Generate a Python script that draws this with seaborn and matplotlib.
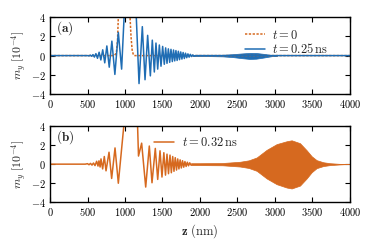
import numpy as np
import matplotlib
matplotlib.use("Agg")
import matplotlib.pyplot as plt
import seaborn as sns

# ---- data (z in nm, m_y in units of 1e-4) ----
# panel (a), t = 0 : initial pulse (goes far above the y range)
z_a0 = [0, 860, 885, 900, 911, 925, 1000, 1055, 1067, 1080, 1095, 1111, 1125, 4000]
m_a0 = [0, 0, 0.3, 1.5, 4, 8, 12, 8, 4, 2, 0.6, 0.1, 0, 0]

# panel (a), t = 0.25 ns : extrema of the oscillating tails
z_a1 = [0, 500, 520, 538, 555, 573, 592, 612, 633, 655, 678, 703, 730, 758, 790, 825,
        865, 911, 955, 1000, 1070, 1140, 1187, 1231, 1267, 1302, 1338, 1364, 1391, 1413,
        1436, 1458, 1480, 1502, 1524, 1542, 1560, 1578, 1596, 1613, 1631, 1647, 1663,
        1679, 1695, 1711, 1727, 1743, 1759, 1775, 1791, 1807, 1823, 1839, 1855, 1871,
        1887, 1903, 1919, 1940, 4000]
m_a1 = [0, 0, -0.03, 0.05, -0.07, 0.1, -0.15, 0.2, -0.28, 0.35, -0.45, 0.6, -0.75, 1.0,
        -1.2, 1.5, -1.95, 2.4, -1.4, 6, 10, 6, -2.9, 3.0, -2.5, 2.1, -2.1, 1.6, -1.7, 1.3,
        -1.4, 1.1, -1.1, 0.95, -0.9, 0.8, -0.8, 0.7, -0.7, 0.65, -0.62, 0.58, -0.55,
        0.52, -0.5, 0.45, -0.42, 0.38, -0.36, 0.32, -0.3, 0.25, -0.22, 0.18, -0.16, 0.13,
        -0.1, 0.07, -0.05, 0, 0]

# panel (a), t = 0.25 ns : envelope of the small fast packet
z_a1_pk = [1900, 2100, 2300, 2444, 2550, 2667, 2750, 2850, 2933, 2980, 3030]
up_a1_pk = [0.03, 0.05, 0.08, 0.15, 0.22, 0.28, 0.27, 0.18, 0.08, 0.03, 0]
lo_a1_pk = [-0.03, -0.05, -0.08, -0.16, -0.26, -0.35, -0.32, -0.2, -0.09, -0.03, 0]

# panel (b), t = 0.32 ns : extrema of the oscillating tails
z_b = [0, 470, 500, 520, 540, 560, 580, 600, 622, 640, 653, 668, 680, 702, 724, 747,
       787, 822, 867, 911, 990, 1000, 1080, 1160, 1180, 1222, 1276, 1324, 1360, 1404,
       1436, 1467, 1493, 1518, 1540, 1560, 1580, 1600, 1618, 1636, 1653, 1670, 1687,
       1703, 1719, 1735, 1751, 1767, 1783, 1799, 1815, 1831, 1847, 1863, 1880]
m_b = [0, 0, 0.05, -0.06, 0.08, -0.1, 0.12, -0.15, 0.3, -0.2, 0.35, -0.3, 0.55, -0.5,
       0.8, -0.7, 1.25, -1.5, 1.7, -2.0, 4.5, 6, 10, 6, 0.85, 2.2, -2.4, 1.9, -1.95, 1.65,
       -1.6, 1.4, -1.35, 1.2, -1.15, 1.05, -1.0, 0.95, -0.9, 0.8, -0.75, 0.68, -0.62,
       0.55, -0.5, 0.45, -0.4, 0.36, -0.32, 0.27, -0.24, 0.2, -0.17, 0.14, -0.1]

# panel (b), t = 0.32 ns : envelope of the travelling packet
z_b_pk = [1880, 2000, 2300, 2533, 2650, 2756, 2889, 3022, 3155, 3222, 3333, 3422, 3489,
          3555, 3644, 3733, 3866, 3950, 4000]
up_b_pk = [0.1, 0.1, 0.12, 0.25, 0.4, 0.7, 1.5, 2.1, 2.4, 2.5, 2.2, 1.46, 0.83, 0.42,
           0.2, 0.1, 0.03, 0.0, 0.0]
lo_b_pk = [-0.1, -0.1, -0.12, -0.25, -0.4, -0.7, -1.5, -2.1, -2.45, -2.55, -2.25, -1.5,
           -0.85, -0.42, -0.2, -0.1, -0.03, 0.0, 0.0]

blue = "#1f6db4"
orange = "#d6691f"

sns.set_theme(style="ticks")
plt.rcParams.update({
    "font.family": "serif",
    "font.serif": ["cmr10"],
    "mathtext.fontset": "cm",
    "axes.formatter.use_mathtext": True,
    "axes.unicode_minus": True,
    "xtick.direction": "in", "ytick.direction": "in",
    "xtick.top": True, "ytick.right": True,
    "xtick.labelsize": 7.5, "ytick.labelsize": 7.5,
    "xtick.major.size": 3.5, "ytick.major.size": 3.5,
    "xtick.major.width": 0.8, "ytick.major.width": 0.8,
    "axes.linewidth": 1.0, "axes.edgecolor": "black",
    "xtick.color": "black", "ytick.color": "black",
})

fig = plt.figure(figsize=(3.74, 2.49), dpi=100)
ax1 = fig.add_axes([0.1337, 0.6217, 0.8021, 0.3100])
ax2 = fig.add_axes([0.1337, 0.1875, 0.8021, 0.3065])

# (a) -- the t=0 pulse sits underneath the t=0.25 ns curve
sns.lineplot(x=z_a0, y=m_a0, ax=ax1, color=orange, lw=1.1, sort=False,
             estimator=None, label=r"$t=0$")
ax1.lines[-1].set_linestyle((0, (1.5, 1.0)))
sns.lineplot(x=z_a1, y=m_a1, ax=ax1, color=blue, lw=1.1, sort=False,
             estimator=None, label=r"$t=0.25\,\mathrm{ns}$")
ax1.fill_between(z_a1_pk, lo_a1_pk, up_a1_pk, color=blue, lw=0.5)
ax1.legend(loc="upper left", bbox_to_anchor=(0.655, 0.885),
           bbox_transform=fig.transFigure, frameon=False, fontsize=9,
           borderpad=0, borderaxespad=0, handlelength=1.6, handletextpad=0.6,
           labelspacing=0.05)

# (b)
sns.lineplot(x=z_b, y=m_b, ax=ax2, color=orange, lw=1.1, sort=False,
             estimator=None, label=r"$t=0.32\,\mathrm{ns}$")
ax2.fill_between(z_b_pk, lo_b_pk, up_b_pk, color=orange, lw=0.5)
ax2.legend(loc="upper left", bbox_to_anchor=(0.412, 0.452),
           bbox_transform=fig.transFigure, frameon=False, fontsize=9,
           borderpad=0, borderaxespad=0, handlelength=1.6, handletextpad=0.6)

for ax, tag in [(ax1, "(a)"), (ax2, "(b)")]:
    ax.set_xlim(0, 4000)
    ax.set_ylim(-4, 4)
    ax.set_xticks(np.arange(0, 4001, 500))
    ax.set_yticks([-4, -2, 0, 2, 4])
    ax.set_ylabel(r"$m_y\ [10^{-4}]$", fontsize=8.5, labelpad=1)
    ax.set_xlabel("")
    ax.tick_params(pad=3)
    ax.text(0.02, 0.97, r"$\mathbf{" + tag + "}$", transform=ax.transAxes,
            ha="left", va="top", fontsize=9.5)

ax2.set_xlabel(r"$\mathbf{z}$ (nm)", fontsize=9, labelpad=3)

fig.savefig("out.png", dpi=100)
